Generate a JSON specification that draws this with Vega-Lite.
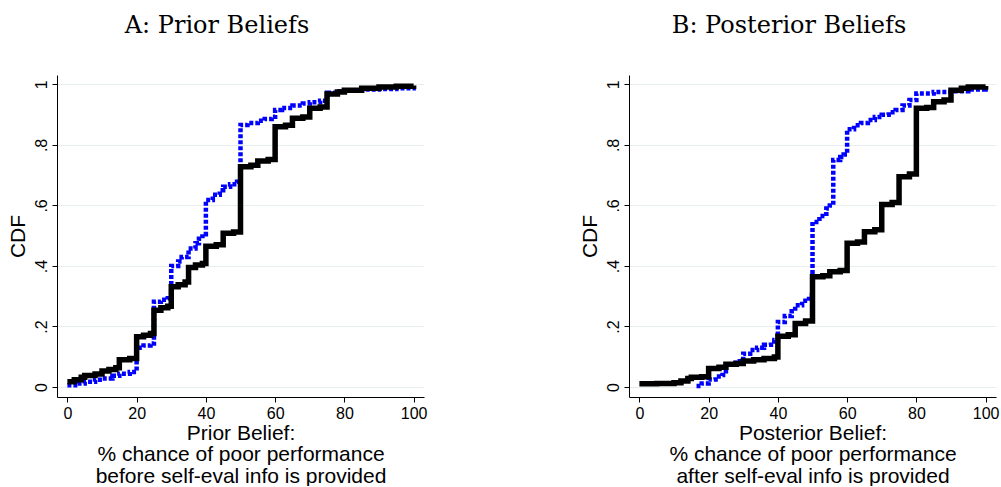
{
  "$schema": "https://vega.github.io/schema/vega-lite/v6.json",
  "padding": {"left": 6, "top": 13, "right": 2, "bottom": 0},
  "spacing": 151,
  "background": "white",
  "config": {
    "view": {"stroke": null},
    "font": "Liberation Sans",
    "axis": {
      "domainColor": "black", "domainWidth": 1, "tickColor": "black", "tickSize": 5, "tickWidth": 1,
      "labelFont": "Liberation Sans", "labelFontSize": 16, "labelColor": "black",
      "titleFont": "Liberation Sans", "titleFontWeight": "normal", "titleColor": "black",
      "gridColor": "#e6eef0", "gridWidth": 1
    },
    "title": {"font": "DejaVu Serif", "fontSize": 24, "fontWeight": "normal", "color": "black", "frame": "bounds", "anchor": "middle", "offset": 37}
  },
  "datasets": {
    "A": [
      {"g":"black","x":0,"y":0.017},{"g":"black","x":2,"y":0.024},{"g":"black","x":4,"y":0.032},{"g":"black","x":5,"y":0.038},{"g":"black","x":8,"y":0.043},{"g":"black","x":10,"y":0.053},{"g":"black","x":12,"y":0.058},{"g":"black","x":14,"y":0.064},{"g":"black","x":15,"y":0.09},{"g":"black","x":18,"y":0.094},{"g":"black","x":20,"y":0.166},{"g":"black","x":22,"y":0.171},{"g":"black","x":24,"y":0.177},{"g":"black","x":25,"y":0.254},{"g":"black","x":27,"y":0.262},{"g":"black","x":29,"y":0.267},{"g":"black","x":30,"y":0.331},{"g":"black","x":32,"y":0.338},{"g":"black","x":34,"y":0.347},{"g":"black","x":35,"y":0.395},{"g":"black","x":37,"y":0.403},{"g":"black","x":39,"y":0.408},{"g":"black","x":40,"y":0.465},{"g":"black","x":43,"y":0.47},{"g":"black","x":45,"y":0.508},{"g":"black","x":48,"y":0.512},{"g":"black","x":50,"y":0.728},{"g":"black","x":53,"y":0.733},{"g":"black","x":55,"y":0.747},{"g":"black","x":58,"y":0.752},{"g":"black","x":60,"y":0.86},{"g":"black","x":63,"y":0.865},{"g":"black","x":65,"y":0.888},{"g":"black","x":68,"y":0.892},{"g":"black","x":70,"y":0.921},{"g":"black","x":73,"y":0.925},{"g":"black","x":75,"y":0.968},{"g":"black","x":78,"y":0.975},{"g":"black","x":80,"y":0.981},{"g":"black","x":85,"y":0.987},{"g":"black","x":90,"y":0.991},{"g":"black","x":95,"y":0.994},{"g":"black","x":100,"y":0.996},
      {"g":"blue","x":0,"y":0.006},{"g":"blue","x":3,"y":0.012},{"g":"blue","x":5,"y":0.017},{"g":"blue","x":8,"y":0.024},{"g":"blue","x":10,"y":0.028},{"g":"blue","x":13,"y":0.037},{"g":"blue","x":15,"y":0.044},{"g":"blue","x":18,"y":0.05},{"g":"blue","x":20,"y":0.13},{"g":"blue","x":22,"y":0.137},{"g":"blue","x":24,"y":0.144},{"g":"blue","x":25,"y":0.282},{"g":"blue","x":27,"y":0.288},{"g":"blue","x":29,"y":0.293},{"g":"blue","x":30,"y":0.4},{"g":"blue","x":32,"y":0.415},{"g":"blue","x":33,"y":0.43},{"g":"blue","x":35,"y":0.458},{"g":"blue","x":37,"y":0.475},{"g":"blue","x":38,"y":0.49},{"g":"blue","x":39,"y":0.505},{"g":"blue","x":40,"y":0.618},{"g":"blue","x":42,"y":0.635},{"g":"blue","x":44,"y":0.65},{"g":"blue","x":45,"y":0.662},{"g":"blue","x":47,"y":0.67},{"g":"blue","x":49,"y":0.678},{"g":"blue","x":50,"y":0.866},{"g":"blue","x":52,"y":0.872},{"g":"blue","x":55,"y":0.88},{"g":"blue","x":57,"y":0.886},{"g":"blue","x":59,"y":0.893},{"g":"blue","x":60,"y":0.915},{"g":"blue","x":62,"y":0.922},{"g":"blue","x":65,"y":0.93},{"g":"blue","x":68,"y":0.937},{"g":"blue","x":70,"y":0.941},{"g":"blue","x":73,"y":0.946},{"g":"blue","x":75,"y":0.972},{"g":"blue","x":78,"y":0.977},{"g":"blue","x":80,"y":0.98},{"g":"blue","x":85,"y":0.983},{"g":"blue","x":90,"y":0.985},{"g":"blue","x":95,"y":0.987},{"g":"blue","x":100,"y":0.988}
    ],
    "B": [
      {"g":"black","x":0,"y":0.011},{"g":"black","x":5,"y":0.012},{"g":"black","x":10,"y":0.014},{"g":"black","x":12,"y":0.02},{"g":"black","x":14,"y":0.028},{"g":"black","x":15,"y":0.032},{"g":"black","x":18,"y":0.034},{"g":"black","x":20,"y":0.061},{"g":"black","x":23,"y":0.065},{"g":"black","x":25,"y":0.075},{"g":"black","x":28,"y":0.078},{"g":"black","x":30,"y":0.086},{"g":"black","x":33,"y":0.09},{"g":"black","x":36,"y":0.094},{"g":"black","x":39,"y":0.099},{"g":"black","x":40,"y":0.168},{"g":"black","x":43,"y":0.173},{"g":"black","x":45,"y":0.21},{"g":"black","x":48,"y":0.218},{"g":"black","x":50,"y":0.364},{"g":"black","x":53,"y":0.368},{"g":"black","x":55,"y":0.381},{"g":"black","x":58,"y":0.385},{"g":"black","x":60,"y":0.475},{"g":"black","x":63,"y":0.479},{"g":"black","x":65,"y":0.513},{"g":"black","x":68,"y":0.52},{"g":"black","x":70,"y":0.603},{"g":"black","x":73,"y":0.61},{"g":"black","x":75,"y":0.695},{"g":"black","x":78,"y":0.704},{"g":"black","x":80,"y":0.921},{"g":"black","x":83,"y":0.924},{"g":"black","x":85,"y":0.943},{"g":"black","x":88,"y":0.948},{"g":"black","x":90,"y":0.981},{"g":"black","x":93,"y":0.987},{"g":"black","x":95,"y":0.991},{"g":"black","x":100,"y":0.995},
      {"g":"blue","x":16.5,"y":0.003},{"g":"blue","x":18,"y":0.012},{"g":"blue","x":20,"y":0.025},{"g":"blue","x":22,"y":0.035},{"g":"blue","x":24,"y":0.04},{"g":"blue","x":25,"y":0.075},{"g":"blue","x":27,"y":0.08},{"g":"blue","x":29,"y":0.085},{"g":"blue","x":30,"y":0.11},{"g":"blue","x":32,"y":0.122},{"g":"blue","x":34,"y":0.13},{"g":"blue","x":36,"y":0.14},{"g":"blue","x":38,"y":0.15},{"g":"blue","x":39,"y":0.155},{"g":"blue","x":40,"y":0.215},{"g":"blue","x":42,"y":0.235},{"g":"blue","x":44,"y":0.25},{"g":"blue","x":45,"y":0.27},{"g":"blue","x":47,"y":0.285},{"g":"blue","x":49,"y":0.303},{"g":"blue","x":50,"y":0.545},{"g":"blue","x":52,"y":0.565},{"g":"blue","x":54,"y":0.59},{"g":"blue","x":55,"y":0.6},{"g":"blue","x":56,"y":0.75},{"g":"blue","x":58,"y":0.76},{"g":"blue","x":59,"y":0.768},{"g":"blue","x":60,"y":0.852},{"g":"blue","x":62,"y":0.865},{"g":"blue","x":64,"y":0.872},{"g":"blue","x":66,"y":0.882},{"g":"blue","x":68,"y":0.892},{"g":"blue","x":70,"y":0.9},{"g":"blue","x":72,"y":0.908},{"g":"blue","x":74,"y":0.915},{"g":"blue","x":76,"y":0.93},{"g":"blue","x":78,"y":0.948},{"g":"blue","x":80,"y":0.97},{"g":"blue","x":85,"y":0.975},{"g":"blue","x":90,"y":0.977},{"g":"blue","x":95,"y":0.983},{"g":"blue","x":100,"y":0.988}
    ]
  },
  "hconcat": [
    {
      "title": "A: Prior Beliefs",
      "width": 367, "height": 322,
      "data": {"name": "A"},
      "encoding": {
        "x": {"field": "x", "type": "quantitative", "scale": {"domain": [-3, 103], "nice": false, "zero": false},
              "axis": {"values": [0, 20, 40, 60, 80, 100], "grid": false, "labelPadding": 3, "titlePadding": 1, "titleFontSize": 21, "titleLineHeight": 21.5,
                       "title": ["Prior Belief:", "% chance of poor performance", "before self-eval info is provided"]}},
        "y": {"field": "y", "type": "quantitative", "scale": {"domain": [-0.033, 1.031], "nice": false, "zero": false},
              "axis": {"values": [0, 0.2, 0.4, 0.6, 0.8, 1], "grid": true, "labelAngle": -90, "labelPadding": 3, "titlePadding": 5, "titleFontSize": 21, "title": "CDF",
                       "labelExpr": "datum.value == 0 ? '0' : datum.value == 1 ? '1' : replace(format(datum.value, '.1f'), '0.', '.')"}}
      },
      "layer": [
        {"transform": [{"filter": "datum.g == 'blue'"}], "mark": {"type": "line", "interpolate": "step-after", "color": "#0000ff", "strokeWidth": 4.5, "strokeDash": [4, 2]}},
        {"transform": [{"filter": "datum.g == 'black'"}], "mark": {"type": "line", "interpolate": "step-after", "color": "black", "strokeWidth": 5.5}}
      ]
    },
    {
      "title": "B: Posterior Beliefs",
      "width": 367, "height": 322,
      "data": {"name": "B"},
      "encoding": {
        "x": {"field": "x", "type": "quantitative", "scale": {"domain": [-3, 103], "nice": false, "zero": false},
              "axis": {"values": [0, 20, 40, 60, 80, 100], "grid": false, "labelPadding": 3, "titlePadding": 1, "titleFontSize": 21, "titleLineHeight": 21.5,
                       "title": ["Posterior Belief:", "% chance of poor performance", "after self-eval info is provided"]}},
        "y": {"field": "y", "type": "quantitative", "scale": {"domain": [-0.033, 1.031], "nice": false, "zero": false},
              "axis": {"values": [0, 0.2, 0.4, 0.6, 0.8, 1], "grid": true, "labelAngle": -90, "labelPadding": 3, "titlePadding": 5, "titleFontSize": 21, "title": "CDF",
                       "labelExpr": "datum.value == 0 ? '0' : datum.value == 1 ? '1' : replace(format(datum.value, '.1f'), '0.', '.')"}}
      },
      "layer": [
        {"transform": [{"filter": "datum.g == 'blue'"}], "mark": {"type": "line", "interpolate": "step-after", "color": "#0000ff", "strokeWidth": 4.5, "strokeDash": [4, 2]}},
        {"transform": [{"filter": "datum.g == 'black'"}], "mark": {"type": "line", "interpolate": "step-after", "color": "black", "strokeWidth": 5.5}}
      ]
    }
  ]
}
